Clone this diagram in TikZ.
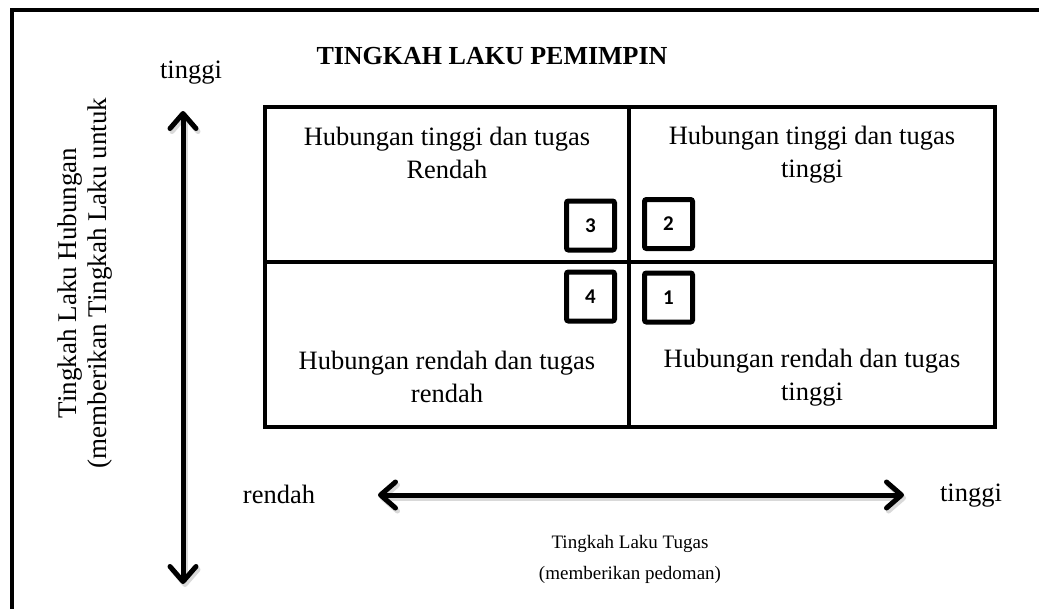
\documentclass[tikz,border=0pt]{standalone}
\usepackage{fontspec}
\setmainfont{Liberation Serif}
\newfontfamily\numfont{Carlito}
\usetikzlibrary{arrows.meta}
\tikzset{
  frame/.style={line width=4pt},
  gridline/.style={line width=3.5pt},
  barb/.tip={Straight Barb[length=15pt,width=26pt,round]},
  bigarrow/.style={line width=5pt, barb-barb},
  arrowshade/.style={bigarrow, black!15},
  numbox/.style={draw, line width=5pt, rounded corners=2pt, minimum width=48pt, minimum height=49pt,
                 inner sep=0pt, font=\numfont\bfseries\fontsize{21}{24}\selectfont},
  celltext/.style={align=center, font=\fontsize{26.5}{33}\selectfont},
  axislabel/.style={anchor=base, font=\fontsize{26.5}{32}\selectfont},
  smalllabel/.style={align=center, font=\fontsize{19}{31}\selectfont},
}
\begin{document}
\begin{tikzpicture}[x=1pt,y=-1pt]
  \useasboundingbox (0,0) rectangle (1039,608);
  \clip (0,0) rectangle (1039,608);
  \fill[white] (0,0) rectangle (1039,608);

  % outer frame (runs past the lower and right edges)
  \draw[frame] (12,10) rectangle (1060,630);

  % title
  \node[font=\bfseries\fontsize{26}{30}\selectfont] (title) at (492,56) {TINGKAH LAKU PEMIMPIN};

  % quadrant grid
  \coordinate (gtl) at (265,107);
  \coordinate (gbr) at (995,427);
  \draw[gridline] (gtl) rectangle (gbr);
  \coordinate (vt) at (629,107);
  \coordinate (vb) at (629,427);
  \coordinate (hl) at (265,262);
  \coordinate (hr) at (995,262);
  \draw[gridline] (vt) -- (vb);
  \draw[gridline] (hl) -- (hr);

  % quadrant texts
  \node[celltext] (q3) at (447,153) {Hubungan tinggi dan tugas\\Rendah};
  \node[celltext] (q2) at (812,155) {Hubungan tinggi dan tugas\\tinggi};
  \node[celltext] (q4) at (447,377) {Hubungan rendah dan tugas\\rendah};
  \node[celltext] (q1) at (812,378) {Hubungan rendah dan tugas\\tinggi};

  % quadrant numbers
  \node[numbox] (n3) at (590.5,225.5) {3};
  \node[numbox] (n2) at (668.5,224) {2};
  \node[numbox] (n4) at (590.5,296.5) {4};
  \node[numbox] (n1) at (668.5,297.5) {1};

  % vertical axis
  \coordinate (vtop) at (183,111);
  \coordinate (vbot) at (183,584);
  \draw[arrowshade] ([shift={(2,3)}]vtop) -- ([shift={(2,3)}]vbot);
  \draw[bigarrow] (vtop) -- (vbot);
  \node[axislabel] (vhigh) at (191,78) {tinggi};
  \node[rotate=90, align=center, font=\fontsize{27}{30}\selectfont] (vtitle) at (85,283)
    {Tingkah Laku Hubungan\\(memberikan Tingkah Laku untuk};

  % horizontal axis
  \coordinate (hleft) at (378,495);
  \coordinate (hright) at (904,495);
  \draw[arrowshade] ([shift={(2,3)}]hleft) -- ([shift={(2,3)}]hright);
  \draw[bigarrow] (hleft) -- (hright);
  \node[axislabel] (hlow) at (279,503) {rendah};
  \node[axislabel] (hhigh) at (971,501) {tinggi};
  \node[smalllabel] (htitle) at (630,559) {Tingkah Laku Tugas\\(memberikan pedoman)};
\end{tikzpicture}
\end{document}
